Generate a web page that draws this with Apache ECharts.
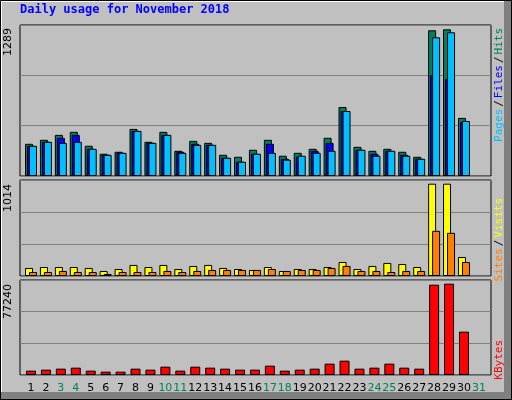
<!DOCTYPE html>
<html>
<head>
<meta charset="utf-8">
<title>Daily usage for November 2018</title>
<script src="https://cdn.jsdelivr.net/npm/echarts@6/dist/echarts.min.js"></script>
<style>
  html, body { margin: 0; padding: 0; background: #c0c0c0; }
  #main { width: 512px; height: 400px; }
</style>
</head>
<body>
<div id="main"></div>
<script>
// values
var days = [1,2,3,4,5,6,7,8,9,10,11,12,13,14,15,16,17,18,19,20,21,22,23,24,25,26,27,28,29,30,31];
var weekend = [3,4,10,11,17,18,24,25,31];
var hits   = [275,309,351,377,258,190,207,402,292,377,215,300,283,181,164,224,309,173,198,232,326,589,249,215,232,207,164,1244,1252,496];
var pages  = [258,292,326,351,232,181,198,385,283,351,207,275,266,156,122,190,275,147,164,215,283,555,224,190,215,181,147,861,827,462];
var files  = [258,292,283,292,232,181,198,385,283,351,198,266,266,156,122,190,198,139,173,198,215,555,224,173,215,173,147,1184,1227,470];
var visits = [85,95,95,95,85,53,74,117,95,117,74,106,117,85,74,64,95,53,74,74,95,148,74,106,138,127,95,975,975,201];
var sites  = [42,42,53,42,42,21,42,42,42,53,42,53,64,64,64,64,74,53,64,64,85,106,53,53,42,53,53,477,456,148];
var kbytes = [3523,4336,5149,5962,3523,2710,2710,5149,4336,6775,3523,6775,5962,5149,4336,4336,7588,3523,4336,5149,9214,11653,5149,5962,9214,5962,5149,73441,74254,35230];
var maxHits = 1289, maxVisits = 1014, maxKb = 77240;

function pairs(arr) {
  return arr.map(function (v, i) { return [days[i], v]; });
}

var chart = echarts.init(document.getElementById('main'));

var grids = [
  { left: 20, width: 471, top: 25, height: 151 },
  { left: 20, width: 471, top: 180, height: 96 },
  { left: 20, width: 471, top: 280, height: 95 }
].map(function (g) {
  g.show = true; g.backgroundColor = '#c0c0c0'; g.borderColor = '#000'; g.borderWidth = 1;
  return g;
});

var xAxes = [0, 1, 2].map(function (i) {
  return {
    type: 'value', gridIndex: i, min: 0.263, max: 31.81,
    splitLine: { show: false }, axisLine: { show: false }, axisTick: { show: false },
    axisLabel: i < 2 ? { show: false } : {
      customValues: days,
      margin: 8,
      fontFamily: 'DejaVu Sans', fontSize: 11,
      formatter: function (v) { return weekend.indexOf(v) >= 0 ? '{w|' + v + '}' : '{n|' + v + '}'; },
      rich: { w: { color: '#00805c', fontFamily: 'DejaVu Sans', fontSize: 11 }, n: { color: '#000', fontFamily: 'DejaVu Sans', fontSize: 11 } }
    }
  };
});

var yMax = [maxHits, maxVisits, maxKb];
var yAxes = [0, 1, 2].map(function (i) {
  return {
    type: 'value', gridIndex: i, min: 0, max: yMax[i], interval: yMax[i] / 3,
    axisLabel: { show: false }, axisLine: { show: false }, axisTick: { show: false },
    splitLine: { lineStyle: { color: '#808080', width: 1 } }
  };
});

function bar(name, data, color, gi, width, gap) {
  return {
    name: name, type: 'bar', xAxisIndex: gi, yAxisIndex: gi,
    data: pairs(data), barWidth: width, barGap: gap,
    itemStyle: { color: color, borderColor: '#000', borderWidth: 1 },
    animation: false
  };
}

function vtext(x, y, rich, text) {
  return { type: 'text', x: x, y: y, rotation: Math.PI / 2,
    style: { text: text, rich: rich, font: '11px "DejaVu Sans Mono"', align: 'right', verticalAlign: 'middle' } };
}

chart.setOption({
  backgroundColor: '#c0c0c0',
  animation: false,
  grid: grids,
  xAxis: xAxes,
  yAxis: yAxes,
  series: [
    bar('Hits', hits, '#00805c', 0, 8, '-75%'),
    bar('Pages', pages, '#0000ff', 0, 8, '-75%'),
    bar('Files', files, '#00c0ff', 0, 8, '-75%'),
    bar('Visits', visits, '#ffff00', 1, 8, '-50%'),
    bar('Sites', sites, '#ff8000', 1, 8, '-50%'),
    bar('KBytes', kbytes, '#ff0000', 2, 10, '0%')
  ],
  graphic: [
    { type: 'rect', shape: { x: 504, y: 0, width: 8, height: 400 }, style: { fill: '#808080' }, silent: true },
    { type: 'rect', shape: { x: 0, y: 392, width: 512, height: 8 }, style: { fill: '#808080' }, silent: true },
    { type: 'rect', shape: { x: 0.5, y: 0.5, width: 511, height: 399 }, style: { fill: 'none', stroke: '#000', lineWidth: 1 }, silent: true },
    { type: 'line', shape: { x1: 1, y1: 1.5, x2: 504, y2: 1.5 }, style: { stroke: '#fff', lineWidth: 1 }, silent: true },
    { type: 'line', shape: { x1: 1.5, y1: 1, x2: 1.5, y2: 392 }, style: { stroke: '#fff', lineWidth: 1 }, silent: true },
    { type: 'text', x: 20, y: 10, style: { text: 'Daily usage for November 2018', fill: '#0000ff', font: 'bold 12px "DejaVu Sans Mono"', verticalAlign: 'middle' } },
    { type: 'text', x: 8, y: 28, rotation: Math.PI / 2, style: { text: String(maxHits), fill: '#000', font: '11px "DejaVu Sans"', align: 'right', verticalAlign: 'middle' } },
    { type: 'text', x: 8, y: 184, rotation: Math.PI / 2, style: { text: String(maxVisits), fill: '#000', font: '11px "DejaVu Sans"', align: 'right', verticalAlign: 'middle' } },
    { type: 'text', x: 8, y: 284, rotation: Math.PI / 2, style: { text: String(maxKb), fill: '#000', font: '11px "DejaVu Sans"', align: 'right', verticalAlign: 'middle' } },
    { type: 'text', x: 499, y: 28, rotation: Math.PI / 2, style: {
      text: '{p|Pages}{s|/}{f|Files}{s|/}{h|Hits}', align: 'right', verticalAlign: 'middle',
      rich: { p: { fill: '#00c0ff', font: '11px "DejaVu Sans Mono"' }, f: { fill: '#0000ff', font: '11px "DejaVu Sans Mono"' },
              h: { fill: '#00805c', font: '11px "DejaVu Sans Mono"' }, s: { fill: '#000', font: '11px "DejaVu Sans Mono"', padding: [0, 2] } } } },
    { type: 'text', x: 499, y: 198, rotation: Math.PI / 2, style: {
      text: '{a|Sites}{s|/}{b|Visits}', align: 'right', verticalAlign: 'middle',
      rich: { a: { fill: '#ff8000', font: '11px "DejaVu Sans Mono"' }, b: { fill: '#ffff00', font: '11px "DejaVu Sans Mono"' },
              s: { fill: '#000', font: '11px "DejaVu Sans Mono"', padding: [0, 2] } } } },
    { type: 'text', x: 499, y: 340, rotation: Math.PI / 2, style: { text: 'KBytes', fill: '#ff0000', font: '11px "DejaVu Sans Mono"', align: 'right', verticalAlign: 'middle' } }
  ]
});
</script>
</body>
</html>
